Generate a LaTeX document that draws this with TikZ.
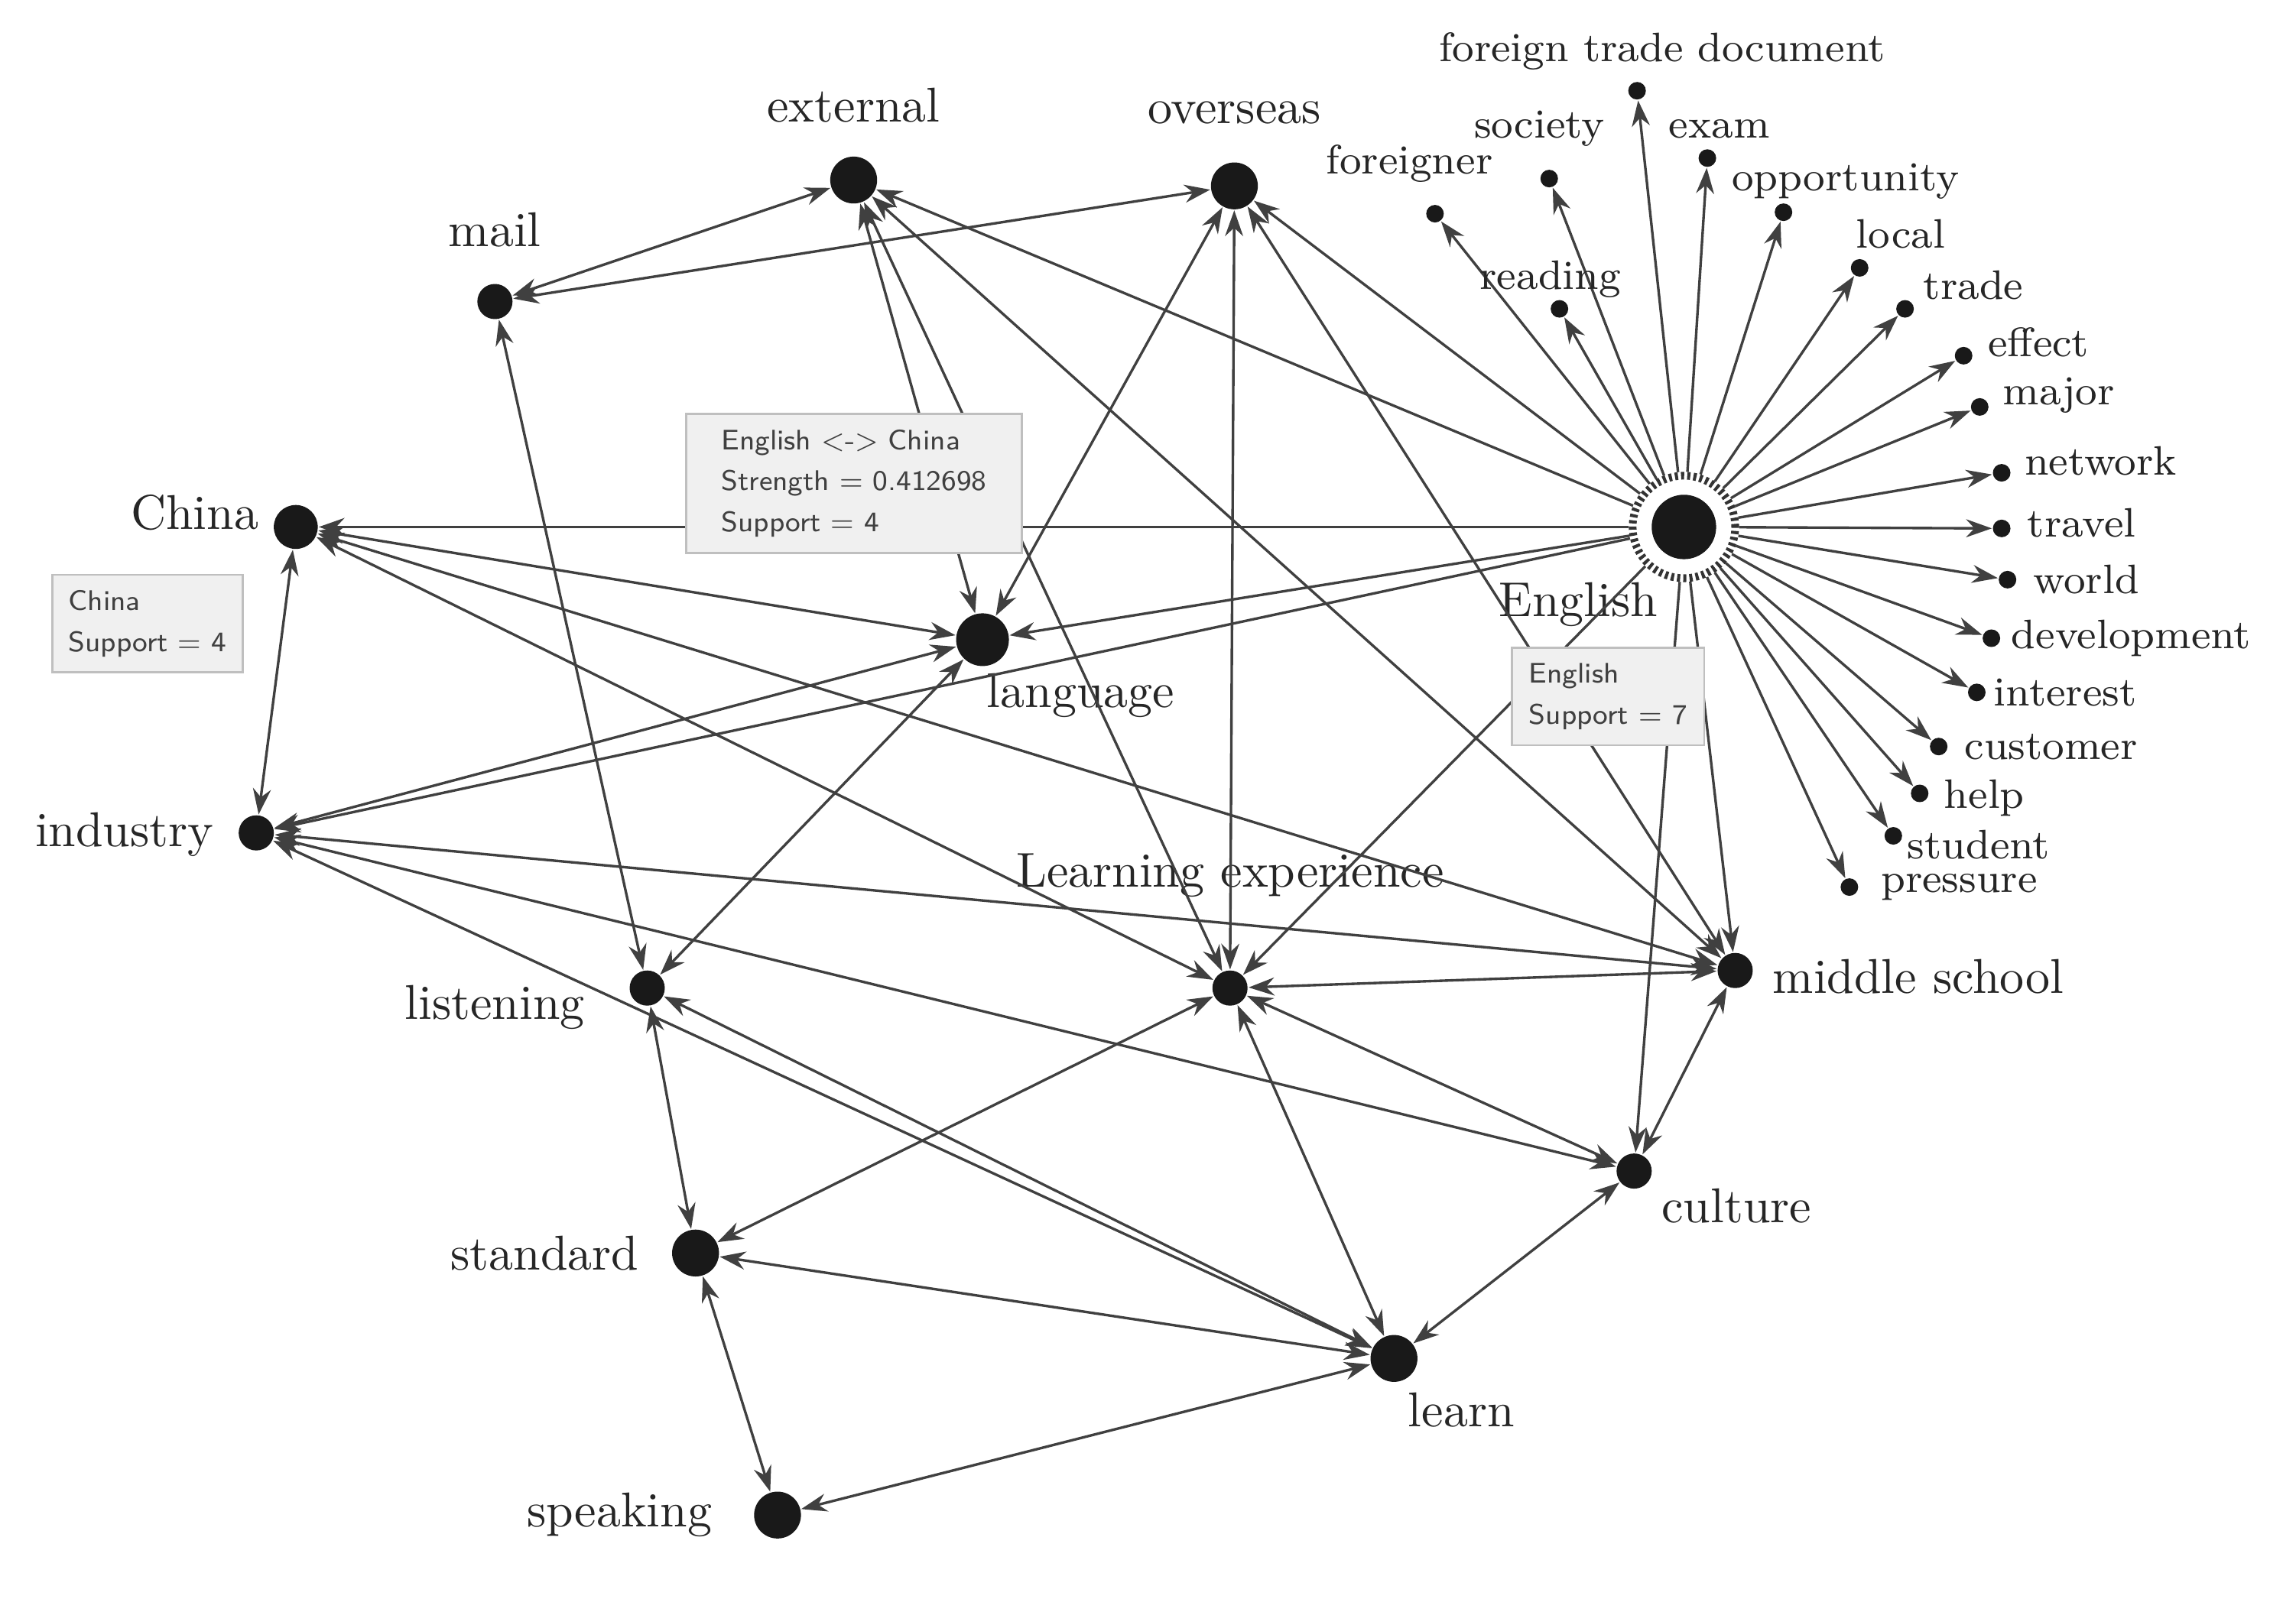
\documentclass[tikz,border=0pt]{standalone}
\usetikzlibrary{arrows.meta}
\begin{document}
\begin{tikzpicture}[x=0.01cm,y=-0.01cm,
 dot/.style={circle,fill=black!90,inner sep=0pt,minimum size=#1},
 lab/.style={font=\fontsize{9.5}{10}\selectfont,text=black!85,inner sep=0pt},
 sl/.style={font=\fontsize{8}{9}\selectfont,text=black!85,inner sep=0pt,anchor=west},
 e/.style={draw=black!75,line width=0.5pt,{Stealth[length=5pt,width=3.5pt]}-{Stealth[length=5pt,width=3.5pt]}},
 o/.style={draw=black!75,line width=0.5pt,-{Stealth[length=5pt,width=3.5pt]}},
 box/.style={draw=black!25,fill=black!6,font=\sffamily\fontsize{5.5}{8}\selectfont,text=black!75,align=left,anchor=north west,inner sep=3pt}]
\useasboundingbox (0,0) rectangle (1568,1092);
% main nodes
\node[dot=0.32cm] (ext) at (583,123) {};
\node[dot=0.32cm] (ove) at (843,127) {};
\node[dot=0.24cm] (mail) at (338,206) {};
\node[dot=0.30cm] (chi) at (202,360) {};
\node[dot=0.36cm] (lang) at (671,437) {};
\node[dot=0.24cm] (ind) at (175,569) {};
\node[circle,draw=black!80,line width=1.5pt,dash pattern=on 0.6pt off 0.6pt,minimum size=0.7cm] (eng) at (1150,360) {};
\node[dot=0.44cm] (engc) at (1150,360) {};
\node[dot=0.24cm] (le) at (840,675) {};
\node[dot=0.24cm] (lis) at (442,675) {};
\node[dot=0.24cm] (ms) at (1185,663) {};
\node[dot=0.24cm] (cul) at (1116,800) {};
\node[dot=0.32cm] (std) at (475,856) {};
\node[dot=0.32cm] (lrn) at (952,928) {};
\node[dot=0.32cm] (spk) at (531,1035) {};
% labels
\node[lab] (lext) at (583,72) {external};
\node[lab] (love) at (843,77) {overseas};
\node[lab] (lmail) at (338,157) {mail};
\node[lab] (lchi) at (133,350) {China};
\node[lab] (llang) at (738,475) {language};
\node[lab] (lind) at (85,570) {industry};
\node[lab] (leng) at (1078,413) {English};
\node[lab] (lle) at (840,598) {Learning experience};
\node[lab] (llis) at (338,688) {listening};
\node[lab,anchor=west] (lms) at (1210,667) {middle school};
\node[lab] (lcul) at (1186,824) {culture};
\node[lab] (lstd) at (372,856) {standard};
\node[lab] (llrn) at (998,963) {learn};
\node[lab] (lspk) at (423,1035) {speaking};
% leaves
\foreach \n/\x/\y/\lx/\ly/\t in {
 a/1118/62/982/35/foreign trade document,
 b/1058/122/1006/88/society,
 c/1166/108/1139/88/exam,
 d/980/146/905/112/foreigner,
 f/1218/145/1182/124/opportunity,
 g/1065/211/1010/191/reading,
 h/1270/183/1267/160/local,
 i/1301/211/1313/195/trade,
 j/1341/243/1357/234/effect,
 k/1352/278/1367/270/major,
 l/1367/323/1382/315/network,
 m/1367/361/1384/357/travel,
 n/1371/396/1388/396/world,
 p/1360/436/1373/436/development,
 q/1350/473/1361/473/interest,
 r/1324/510/1341/510/customer,
 s/1311/542/1327/545/help,
 t/1293/571/1302/577/student,
 u/1263/606/1284/606/pressure}{
 \node[dot=0.12cm] (\n) at (\x,\y) {};
 \node[sl] (l\n) at (\lx,\ly) {\t};
 \draw[o] (eng) -- (\n);
}
% edges
\draw[e] (mail) -- (ext);
\draw[e] (mail) -- (ove);
\draw[e] (mail) -- (lis);
\draw[e] (ext) -- (lang);
\draw[e] (ext) -- (le);
\draw[e] (ext) -- (ms);
\draw[o] (eng) -- (ext);
\draw[o] (eng) -- (ove);
\draw[e] (ove) -- (lang);
\draw[e] (ove) -- (le);
\draw[e] (ove) -- (ms);
\draw[o] (eng) -- (chi);
\draw[e] (chi) -- (lang);
\draw[e] (chi) -- (ind);
\draw[e] (chi) -- (le);
\draw[e] (chi) -- (ms);
\draw[o] (eng) -- (lang);
\draw[o] (eng) -- (ind);
\draw[o] (eng) -- (le);
\draw[o] (eng) -- (ms);
\draw[o] (eng) -- (cul);
\draw[e] (lang) -- (ind);
\draw[e] (ind) -- (ms);
\draw[e] (ind) -- (cul);
\draw[e] (ind) -- (lrn);
\draw[e] (lang) -- (lis);
\draw[e] (le) -- (ms);
\draw[e] (le) -- (std);
\draw[e] (le) -- (lrn);
\draw[e] (le) -- (cul);
\draw[e] (lis) -- (std);
\draw[e] (lis) -- (lrn);
\draw[e] (ms) -- (cul);
\draw[e] (cul) -- (lrn);
\draw[e] (std) -- (lrn);
\draw[e] (std) -- (spk);
\draw[e] (lrn) -- (spk);
% info boxes
\node[box,minimum width=2.29cm,minimum height=0.95cm] (b1) at (468,282) {English <-> China\\Strength = 0.412698\\Support = 4};
\node[box,minimum width=1.30cm,minimum height=0.53cm] (b2) at (35,392) {China\\Support = 4};
\node[box,minimum width=1.31cm,minimum height=0.55cm] (b3) at (1032,442) {English\\Support = 7};
\end{tikzpicture}
\end{document}
